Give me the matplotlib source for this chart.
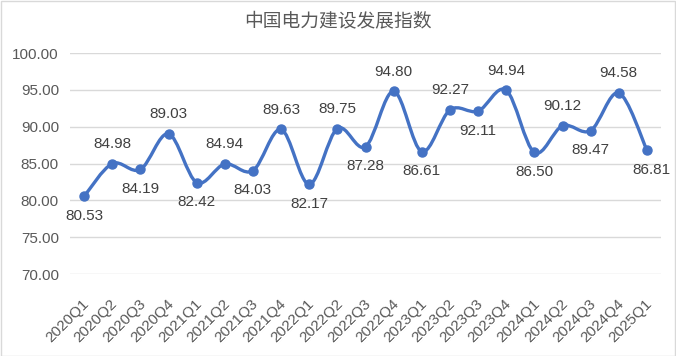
import numpy as np
import matplotlib
matplotlib.use("Agg")
import matplotlib.pyplot as plt
import matplotlib.transforms as mtransforms
from matplotlib.path import Path
from matplotlib.patches import PathPatch, Rectangle

plt.rcParams['font.family'] = ['Liberation Sans', 'Noto Sans CJK SC', 'DejaVu Sans']

title = "中国电力建设发展指数"
categories = ["2020Q1", "2020Q2", "2020Q3", "2020Q4",
              "2021Q1", "2021Q2", "2021Q3", "2021Q4",
              "2022Q1", "2022Q2", "2022Q3", "2022Q4",
              "2023Q1", "2023Q2", "2023Q3", "2023Q4",
              "2024Q1", "2024Q2", "2024Q3", "2024Q4",
              "2025Q1"]
values = [80.53, 84.98, 84.19, 89.03,
          82.42, 84.94, 84.03, 89.63,
          82.17, 89.75, 87.28, 94.80,
          86.61, 92.27, 92.11, 94.94,
          86.50, 90.12, 89.47, 94.58,
          86.81]
yticks = [70, 75, 80, 85, 90, 95, 100]

# label placement per point (style)
label_side = ["below", "above", "below", "above",
              "below", "above", "below", "above",
              "below", "above", "below", "above",
              "below", "above", "below", "above",
              "below", "above", "below", "above",
              "belowright"]

LINE = "#4472C4"
TXT = "#404040"
TICK = "#595959"
GRID = "#D9D9D9"

fig = plt.figure(figsize=(6.76, 3.56), dpi=100)
ax = fig.add_axes([70/676, 1-274/356, (661-70)/676, (274-53)/356])

x = np.arange(len(values), dtype=float)
y = np.array(values, dtype=float)

# Excel-like smoothed line: cubic Bezier with Catmull-Rom control points
verts = [(x[0], y[0])]
codes = [Path.MOVETO]
n = len(x)
for i in range(n - 1):
    p0 = np.array([x[max(i-1, 0)], y[max(i-1, 0)]])
    p1 = np.array([x[i], y[i]])
    p2 = np.array([x[i+1], y[i+1]])
    p3 = np.array([x[min(i+2, n-1)], y[min(i+2, n-1)]])
    c1 = p1 + (p2 - p0) / 6.0
    c2 = p2 - (p3 - p1) / 6.0
    verts += [tuple(c1), tuple(c2), tuple(p2)]
    codes += [Path.CURVE4] * 3
ax.add_patch(PathPatch(Path(verts, codes), facecolor='none', edgecolor=LINE,
                       lw=2.4, capstyle='round', joinstyle='round', zorder=3))
ax.plot(x, y, 'o', color=LINE, ms=6.5, zorder=4)

for xi, yi, side in zip(x, y, label_side):
    if side == "above":
        off, va, ha = (0, 9), 'bottom', 'center'
    elif side == "below":
        off, va, ha = (0, -9), 'top', 'center'
    else:
        off, va, ha = (3, -9), 'top', 'center'
    ax.annotate(f"{yi:.2f}", (xi, yi), xytext=off, textcoords='offset points',
                ha=ha, va=va, fontsize=11, color=TXT)

ax.set_xlim(-0.5, n - 0.5)
ax.set_ylim(70, 100)
ax.set_yticks(yticks)
ax.set_yticklabels([f"{v:.2f}" for v in yticks])
ax.set_xticks(x)
ax.set_xticklabels(categories, rotation=45, ha='right', rotation_mode='anchor')
ax.tick_params(axis='both', length=0, colors=TICK, labelsize=11)
ax.tick_params(axis='y', pad=8)
ax.tick_params(axis='x', pad=16)
shift = mtransforms.ScaledTranslation(-2/100, 0, fig.dpi_scale_trans)
for lbl in ax.get_xticklabels():
    lbl.set_transform(lbl.get_transform() + shift)
ax.grid(axis='y', color=GRID, lw=1)
ax.set_axisbelow(True)
for s in ax.spines.values():
    s.set_visible(False)

fig.text(0.5, 1 - 21/356, title, ha='center', va='center', fontsize=13.5,
         color=TICK, family=['Noto Sans CJK SC', 'DejaVu Sans'])

fig.patches.append(Rectangle((0.5/676, 0.5/356), 1 - 1.5/676, 1 - 1.5/356,
                             transform=fig.transFigure, fill=False,
                             edgecolor=GRID, lw=1))

fig.savefig("out.png", dpi=100)
